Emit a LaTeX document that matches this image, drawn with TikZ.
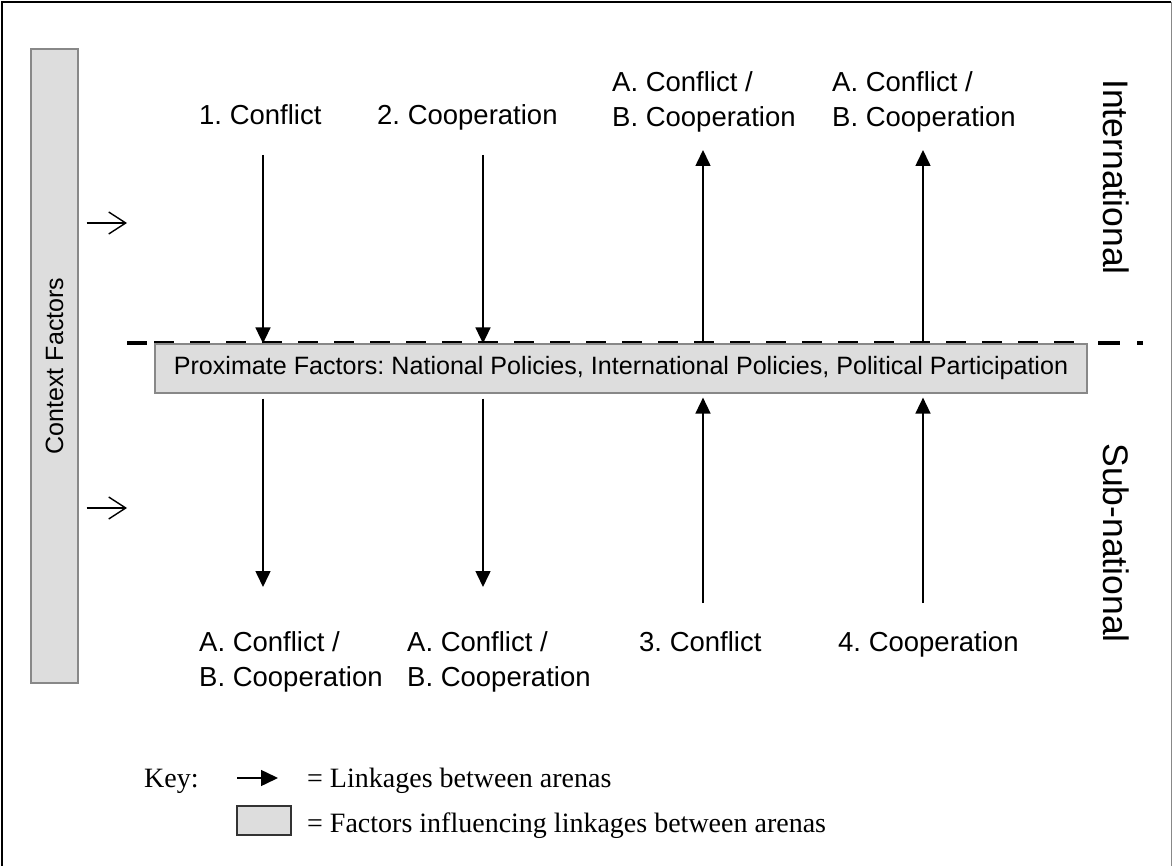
\documentclass[tikz,border=0pt]{standalone}
\usepackage{fontspec}
\setmainfont{Liberation Serif}
\newfontfamily\arialfont{Liberation Sans}
\usetikzlibrary{arrows.meta}
\frenchspacing
\definecolor{BoxGray}{HTML}{DDDDDD}
\definecolor{BoxEdge}{HTML}{888888}

\tikzset{
  arenatext/.style={font=\arialfont\fontsize{27.5}{35}\selectfont, inner sep=0pt, align=left},
  linkage/.style={line width=1.6pt, -{Triangle[width=15pt,length=16pt]}},
  influence/.style={line width=1.4pt, -{Straight Barb[length=17pt,width=22pt]}},
  factorbox/.style={draw=BoxEdge, fill=BoxGray, line width=1.2pt, inner sep=0pt},
  keytext/.style={font=\fontsize{28}{32}\selectfont, inner sep=0pt, anchor=base west},
}

\begin{document}
\begin{tikzpicture}[x=1pt, y=-1pt]
  \useasboundingbox (0,0) rectangle (1173,866);
  % Frame
  \draw[line width=1.5pt] (2,866) -- (2,2) -- (1171,2);
  \draw[BoxEdge, line width=1pt] (1171,2) -- (1171,866);

  % Boxes
  \node[factorbox, rotate=90, minimum width=634pt, minimum height=47pt,
    font=\arialfont\fontsize{25}{28}\selectfont] (context) at (54.5,366) {Context Factors};
  \node[factorbox, minimum width=932pt, minimum height=49pt,
    font=\arialfont\fontsize{25.1}{28}\selectfont] (prox) at (621,368.5)
    {Proximate Factors: National Policies, International Policies, Political Participation};

  % Divide between arenas
  \draw[line width=2pt, dash pattern=on 20pt off 16pt]
    ([yshift=1pt]prox.north west) -- ([yshift=1pt]prox.north east);
  \draw[line width=4pt] (127,343) -- (147,343);
  \draw[line width=4pt] (1098,343) -- (1120,343);
  \draw[line width=4pt] (1137,343) -- (1143,343);

  % Arena names
  \node[rotate=-90, font=\arialfont\fontsize{35.5}{40}\selectfont] (intl) at (1116,177) {International};
  \node[rotate=-90, font=\arialfont\fontsize{35.5}{40}\selectfont] (subnat) at (1116,543) {Sub-national};

  % Labels (base = last line)
  \node[arenatext, anchor=base west] (conf1) at (199,125) {1. Conflict};
  \node[arenatext, anchor=base west] (coop2) at (377,125) {2. Cooperation};
  \node[arenatext, anchor=base west] (out3) at (612,127) {A. Conflict /\\B. Cooperation};
  \node[arenatext, anchor=base west] (out4) at (832,127) {A. Conflict /\\B. Cooperation};
  \node[arenatext, anchor=base west] (out1) at (199,686) {A. Conflict /\\B. Cooperation};
  \node[arenatext, anchor=base west] (out2) at (407,686) {A. Conflict /\\B. Cooperation};
  \node[arenatext, anchor=base west] (conf3) at (639,651) {3. Conflict};
  \node[arenatext, anchor=base west] (coop4) at (838,651) {4. Cooperation};

  % Linkage ends
  \coordinate (t1) at (263,155);
  \coordinate (t2) at (483,155);
  \coordinate (t3) at (703,150);
  \coordinate (t4) at (923,150);
  \coordinate (b1) at (263,587);
  \coordinate (b2) at (483,587);
  \coordinate (b3) at (703,603);
  \coordinate (b4) at (923,603);

  % Linkages
  \draw[linkage] (t1) -- (t1 |- prox.north);
  \draw[linkage] (t2) -- (t2 |- prox.north);
  \draw[linkage] (t3 |- prox.north) -- (t3);
  \draw[linkage] (t4 |- prox.north) -- (t4);
  \draw[linkage, shorten <=5pt] (b1 |- prox.south) -- (b1);
  \draw[linkage, shorten <=5pt] (b2 |- prox.south) -- (b2);
  \draw[linkage, shorten >=4pt] (b3) -- (b3 |- prox.south);
  \draw[linkage, shorten >=4pt] (b4) -- (b4 |- prox.south);

  % Context influence
  \coordinate (ctx1) at (127,223);
  \coordinate (ctx2) at (127,508);
  \draw[influence, shorten <=8pt] (context.south |- ctx1) -- (ctx1);
  \draw[influence, shorten <=8pt] (context.south |- ctx2) -- (ctx2);

  % Key
  \node[keytext] (key) at (144,787) {Key:};
  \coordinate (keytail) at (237,778);
  \coordinate (keyhead) at (278,778);
  \draw[line width=1.5pt, -{Triangle[width=16pt,length=17pt]}] (keytail) -- (keyhead);
  \node[keytext] (keylink) at (307,787) {= Linkages between arenas};
  \node[draw=black!80, fill=BoxGray, line width=1.2pt, minimum width=54pt,
    minimum height=29pt, inner sep=0pt] (keybox) at (264,820.5) {};
  \node[keytext] (keyfactor) at (307,832) {= Factors influencing linkages between arenas};
\end{tikzpicture}
\end{document}
